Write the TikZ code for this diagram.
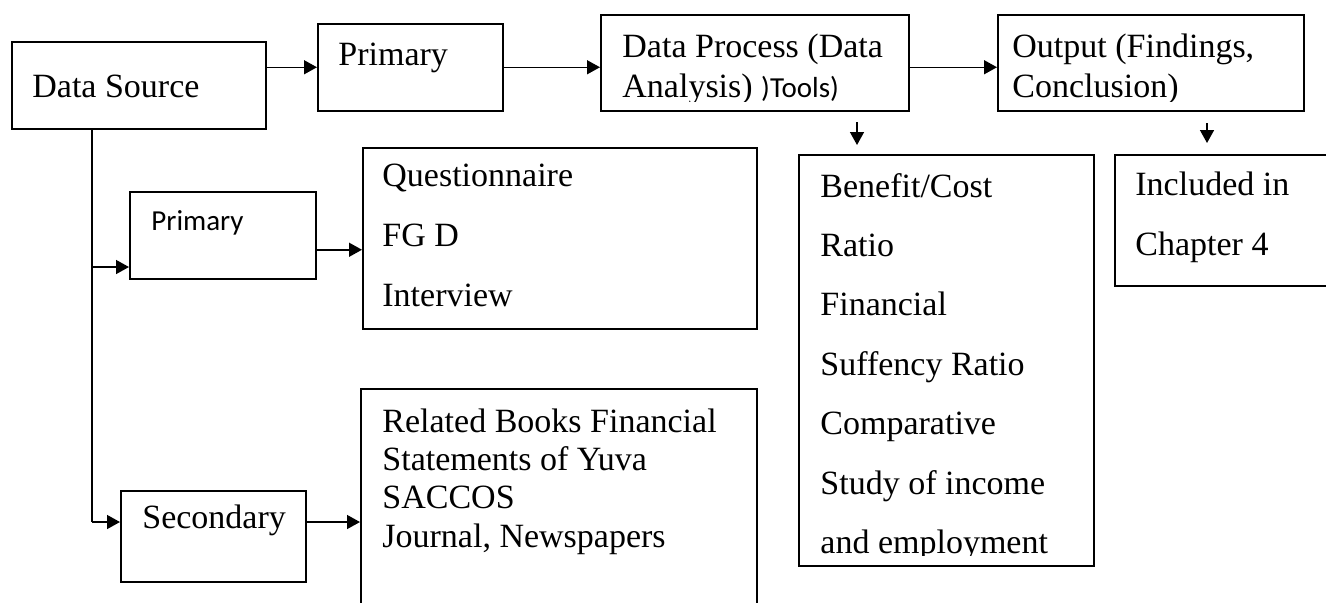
\documentclass[tikz,border=0pt]{standalone}
\usepackage{fontspec}
\setmainfont{Liberation Serif}
\newfontfamily\calibri{Carlito}
\usetikzlibrary{arrows.meta}
\newcommand{\boxtext}[2]{\fontsize{17}{#1}\selectfont\begin{tabular}[t]{@{}l@{}}#2\end{tabular}}
\newcommand{\sanssize}{\calibri\fontsize{14.5}{17}\selectfont}

\begin{document}
\begin{tikzpicture}[x=0.5pt, y=-0.5pt,
            box/.style={rectangle, draw, line width=0.75pt, inner sep=0pt, anchor=north west},
            txt/.style={anchor=base west, inner sep=0pt, font=\fontsize{17}{20}\selectfont},
            sanstxt/.style={anchor=base west, inner sep=0pt, font=\sanssize},
            arr/.style={line width=0.75pt, -{Triangle[length=6.5pt, width=7pt]}}
        ]
            \useasboundingbox (0,0) rectangle (1326,602);
            \clip (0,0) rectangle (1326,602);

            % top row
            \node(src) at (11,41) [box, minimum width=127pt, minimum height=43.5pt] {};
            \node(srctxt) at (32,97) [txt] {Data Source};
            \node(prim) at (317,23) [box, minimum width=92.5pt, minimum height=43.5pt] {};
            \node(primtxt) at (338,65) [txt] {Primary};
            \node(proc) at (600,14) [box, minimum width=154pt, minimum height=48pt] {};
            \begin{scope}
                \clip (proc.north west) rectangle ([yshift=5pt]proc.south east);
                \node(proctxt) at (622,57) [txt] {\boxtext{20pt}{Data Process (Data\\ Analysis) {\sanssize )Tools)}}};
            \end{scope}
            \node(out) at (997,14) [box, minimum width=153pt, minimum height=48pt] {};
            \begin{scope}
                \clip (out.north west) rectangle ([yshift=5pt]out.south east);
                \node(outtxt) at (1012,57) [txt] {\boxtext{20pt}{Output (Findings,\\ Conclusion)}};
            \end{scope}

            % sources
            \node(prim2) at (129,191) [box, minimum width=93pt, minimum height=43.5pt] {};
            \node(prim2txt) at (151,230) [sanstxt] {Primary};
            \node(quest) at (362,147) [box, minimum width=197pt, minimum height=90.5pt] {};
            \node(questtxt) at (382,186) [txt] {\boxtext{30pt}{Questionnaire\\ FG D\\ Interview}};
            \node(sec) at (120,490) [box, minimum width=92.5pt, minimum height=45.5pt] {};
            \node(sectxt) at (142,528) [txt] {Secondary};
            \node(rel) at (360,388) [box, minimum width=198pt, minimum height=115pt] {};
            \node(reltxt) at (382,432) [txt] {\boxtext{19.2pt}{Related Books Financial\\ Statements of Yuva\\ SACCOS\\ Journal, Newspapers}};

            % tools and output
            \node(tools) at (798,154) [box, minimum width=147.5pt, minimum height=205.5pt] {};
            \begin{scope}
                \clip (tools.north west) rectangle ([yshift=5.5pt]tools.south east);
                \node(toolstxt) at (820,197) [txt] {\boxtext{29.7pt}{Benefit/Cost\\ Ratio\\ Financial\\ Suffency Ratio\\ Comparative\\ Study of income\\ and employment}};
            \end{scope}
            \node(incl) at (1114,154) [box, minimum width=110pt, minimum height=65.5pt] {};
            \node(incltxt) at (1135,195) [txt] {\boxtext{30pt}{Included in\\ Chapter 4}};

            % connectors
            \coordinate(tap1) at (92,267);
            \coordinate(tap2) at (92,522);
            \coordinate(procdrop) at (857,122);
            \coordinate(outdrop) at (1207,123);
            \draw[arr] (src.east |- prim.west) -- (prim.west);
            \draw[arr] (prim.east) -- (prim.east -| proc.west);
            \draw[arr] (prim.east -| proc.east) -- (prim.east -| out.west);
            \draw[line width=0.75pt] (src.south -| tap1) -- (tap2);
            \draw[arr] (tap1) -- (tap1 -| prim2.west);
            \draw[arr] (tap2) -- (tap2 -| sec.west);
            \draw[arr] ([yshift=-7.25pt]prim2.east) -- ([yshift=-7.25pt]prim2.east -| quest.west);
            \draw[arr] (tap2 -| sec.east) -- (tap2 -| rel.west);
            \draw[arr, shorten >=4.5pt] (procdrop) -- (procdrop |- tools.north);
            \draw[arr, shorten >=5.5pt] (outdrop) -- (outdrop |- incl.north);
        \end{tikzpicture}
\end{document}
